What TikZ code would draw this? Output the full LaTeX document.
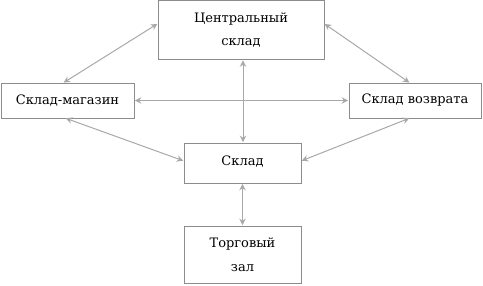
\documentclass[tikz,border=0pt]{standalone}
\usepackage{fontspec}
\setmainfont{DejaVu Serif}
\usetikzlibrary{arrows.meta}
\definecolor{boxc}{HTML}{8C8C8C}
\definecolor{arrc}{HTML}{A8A8A8}
\begin{document}
\begin{tikzpicture}[x=1pt,y=1pt,
  box/.style={draw=boxc,line width=0.9pt,rectangle,inner sep=0pt,outer sep=0pt,align=center,font=\fontsize{13}{23.5}\selectfont},
  link/.style={draw=arrc,line width=1pt,{Stealth[length=6.5pt,width=6.5pt]}-{Stealth[length=6.5pt,width=6.5pt]},shorten <=0.8pt,shorten >=0.8pt}]
\useasboundingbox (0,0) rectangle (483,285);
\node[box,minimum width=166,minimum height=59] (C) at (241,255) {Центральный\\склад};
\node[box,minimum width=133,minimum height=35] (SM) at (67.5,184.5) {Склад-магазин};
\node[box,minimum width=132,minimum height=35] (SV) at (415,184.5) {Склад возврата};
\node[box,minimum width=117,minimum height=40] (S) at (242.5,122) {\raisebox{5pt}{Склад}};
\node[box,minimum width=117,minimum height=57] (T) at (242.5,30.5) {\raisebox{3pt}{\parbox{110pt}{\centering Торговый\\зал}}};
\draw[link] ([yshift=6.5pt]C.west) -- ([xshift=-4.5pt]SM.north);
\draw[link] ([yshift=6.5pt]C.east) -- ([xshift=-5pt]SV.north);
\draw[link] ([xshift=2pt]C.south) -- ([xshift=0.5pt]S.north);
\draw[link] (SM.east) -- (SV.west);
\draw[link] ([xshift=-2.5pt]SM.south) -- ([yshift=2pt]S.west);
\draw[link] ([xshift=-5pt]SV.south) -- ([yshift=2pt]S.east);
\draw[link] (S.south) -- (T.north);
\end{tikzpicture}
\end{document}
